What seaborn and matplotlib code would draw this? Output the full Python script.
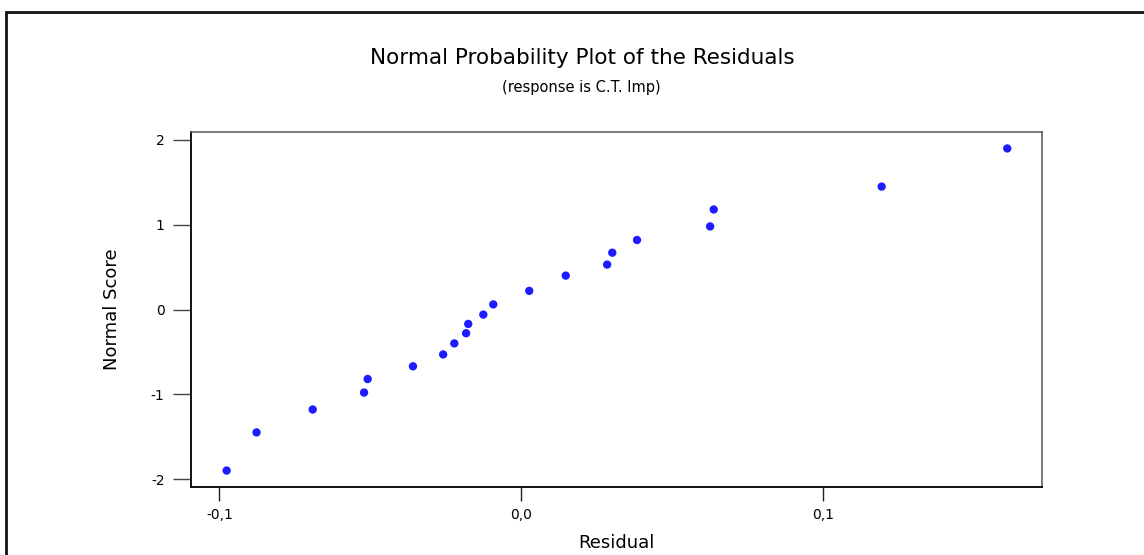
import matplotlib
matplotlib.use("Agg")
import matplotlib.pyplot as plt
from matplotlib.patches import Rectangle
import seaborn as sns
import pandas as pd

# ---- data ----
residual = [-0.0976, -0.0877, -0.0691, -0.0521, -0.0509, -0.0359, -0.0259,
            -0.0222, -0.0183, -0.0176, -0.0126, -0.0093, 0.0026, 0.0147,
            0.0284, 0.0301, 0.0383, 0.0625, 0.0637, 0.1193, 0.1609]
normal_score = [-1.90, -1.45, -1.18, -0.98, -0.82, -0.67, -0.53,
                -0.40, -0.28, -0.17, -0.06, 0.06, 0.22, 0.40,
                0.53, 0.67, 0.82, 0.98, 1.18, 1.45, 1.90]
x_ticks = [-0.1, 0.0, 0.1]
x_tick_labels = ["-0,1", "0,0", "0,1"]
y_ticks = [-2, -1, 0, 1, 2]
y_tick_labels = ["-2", "-1", "0", "1", "2"]

title = "Normal Probability Plot of the Residuals"
subtitle = "(response is C.T. Imp)"
x_label = "Residual"
y_label = "Normal Score"

df = pd.DataFrame({"Residual": residual, "Normal Score": normal_score})

sns.set_style("white")
plt.rcParams["font.family"] = ["DejaVu Sans"]
plt.rcParams["text.color"] = "black"
plt.rcParams["axes.labelcolor"] = "black"
plt.rcParams["xtick.color"] = "black"
plt.rcParams["ytick.color"] = "black"

fig = plt.figure(figsize=(11.44, 5.55), dpi=100)
fig.patch.set_facecolor("white")
ax = fig.add_axes([191 / 1144, 1 - 487 / 555, (1042 - 191) / 1144, (487 - 132) / 555])

sns.scatterplot(data=df, x="Residual", y="Normal Score", ax=ax,
                color="#1c1cff", s=36, edgecolor="none", linewidth=0)

ax.set_xlim(-0.1094, 0.1724)
ax.set_ylim(-2.094, 2.094)
ax.set_xticks(x_ticks)
ax.set_xticklabels(x_tick_labels)
ax.set_yticks(y_ticks)
ax.set_yticklabels(y_tick_labels)

ax.tick_params(axis="x", direction="out", length=10, width=1.0, color="#222222",
               labelcolor="black", labelsize=10, pad=5, bottom=True)
ax.tick_params(axis="y", direction="out", length=13, width=1.0, color="#444444",
               labelcolor="black", labelsize=10, pad=6, left=True)

for side in ["left", "bottom"]:
    ax.spines[side].set_color("#111111")
    ax.spines[side].set_linewidth(1.4)
for side in ["top", "right"]:
    ax.spines[side].set_color("#555555")
    ax.spines[side].set_linewidth(1.1)
    ax.spines[side].set_visible(True)

ax.set_xlabel(x_label, fontsize=13, labelpad=9, color="black")
ax.set_ylabel(y_label, fontsize=13, color="black")
ax.yaxis.set_label_coords(-0.082, 0.5)

fig.text(0.509, 1 - 58 / 555, title, ha="center", va="center",
         fontsize=15.5, color="black")
fig.text(0.508, 1 - 88 / 555, subtitle, ha="center", va="center",
         fontsize=10.5, color="black")

# outer frame (extends beyond right and bottom edges)
fig.add_artist(Rectangle((6 / 1144, -0.1), 1.2, 1 - 12 / 555 + 0.1,
                         transform=fig.transFigure, fill=False,
                         edgecolor="#111111", linewidth=2))

fig.savefig("out.png", dpi=100, facecolor="white")
